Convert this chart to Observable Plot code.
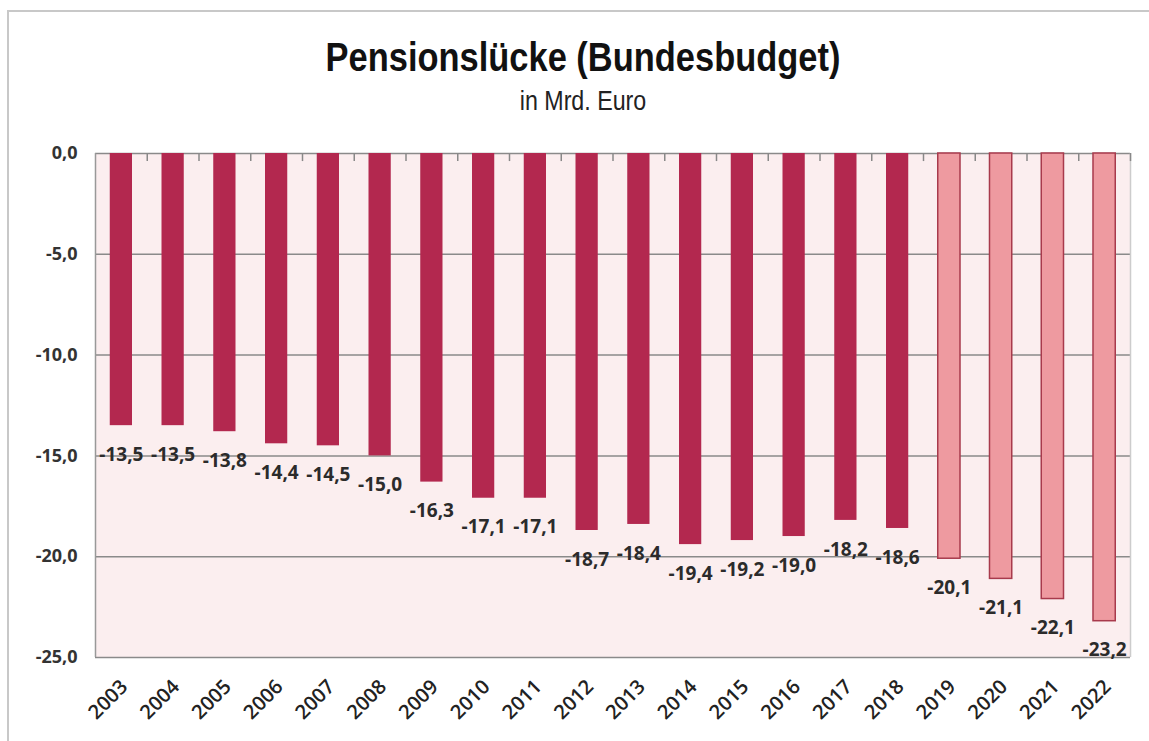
<!DOCTYPE html>
<html><head><meta charset="utf-8">
<script src="https://cdn.jsdelivr.net/npm/d3@7"></script>
<script src="https://cdn.jsdelivr.net/npm/@observablehq/plot@0.6"></script>
<style>
html,body{margin:0;padding:0;background:#fff;}
#wrap{position:relative;width:1149px;height:741px;overflow:hidden;}
#frame{position:absolute;left:7px;top:10px;width:1160px;height:740px;border-left:2px solid #c8c8c8;border-top:2px solid #c8c8c8;}
#title{position:absolute;left:0;top:34px;width:1166px;text-align:center;font-family:"Liberation Sans",sans-serif;font-weight:bold;font-size:41px;color:#111;transform:scaleX(0.84);transform-origin:583px 0;}
#sub{position:absolute;left:0;top:86px;width:1166px;text-align:center;font-family:"Liberation Sans",sans-serif;font-size:27px;color:#222;transform:scaleX(0.86);transform-origin:583px 0;}
#chart{position:absolute;left:0;top:130px;}
#chart svg g[aria-label="y-axis tick label"] text{font-size:18px !important;font-weight:bold;}
#chart svg g[aria-label="x-axis tick label"] text{font-size:20px !important;font-weight:600;}
</style></head>
<body><div id="wrap"><div id="frame"></div>
<div id="title">Pensionslücke (Bundesbudget)</div>
<div id="sub">in Mrd. Euro</div>
<div id="chart"></div></div>
<script>
const years = ["2003","2004","2005","2006","2007","2008","2009","2010","2011","2012","2013","2014","2015","2016","2017","2018","2019","2020","2021","2022"];
const values = [-13.5,-13.5,-13.8,-14.4,-14.5,-15.0,-16.3,-17.1,-17.1,-18.7,-18.4,-19.4,-19.2,-19.0,-18.2,-18.6,-20.1,-21.1,-22.1,-23.2];
const forecast = [false,false,false,false,false,false,false,false,false,false,false,false,false,false,false,false,true,true,true,true];
const yTicks = [0,-5,-10,-15,-20,-25];

const data = years.map((y,i)=>({year:y, value:values[i], forecast:forecast[i]}));
const fmt = v => v.toFixed(1).replace(".", ",");
const step = (1149-95-19)/years.length;

const chart = Plot.plot({
  width:1149, height:611,
  marginTop:23, marginBottom:84, marginLeft:95, marginRight:19,
  style:{background:"transparent", fontFamily:"'Open Sans', sans-serif", fontSize:"17px"},
  x:{domain:years, paddingInner:0.57, paddingOuter:0.285, round:false, label:null},
  y:{domain:[-25,0], label:null},
  marks:[
    Plot.frame({fill:"#fbeeef", stroke:null}),
    Plot.gridY(yTicks, {stroke:"#8a8a8a", strokeOpacity:1, strokeWidth:1.5}),
    Plot.ruleX([years[0]], {dx:-step/2, y1:-25, y2:0, stroke:"#999", strokeWidth:1.5}),
    Plot.ruleX([years[years.length-1]], {dx:step/2, y1:-25, y2:0, stroke:"#ccc", strokeWidth:1.5}),
    Plot.ruleX(years, {dx:step/2, y1:0, y2:-0.4, stroke:"#888", strokeWidth:1.5}),
    Plot.barY(data, {x:"year", y:"value", fill:d=>d.forecast?"#ee9aa0":"#b3284f", stroke:d=>d.forecast?"#a83a4c":"none", strokeWidth:1.5}),
    Plot.text(data, {x:"year", y:"value", text:d=>fmt(d.value), dy:29, fontSize:19, fontWeight:"bold", fill:"#2b2b2b"}),
    Plot.axisY(yTicks, {tickFormat:fmt, tickSize:0, tickPadding:18, fill:"#333"}),
    Plot.axisX({tickSize:0, tickRotate:-45, tickPadding:26, dx:3, fill:"#222"})
  ]
});
document.getElementById("chart").appendChild(chart);
</script></body></html>
